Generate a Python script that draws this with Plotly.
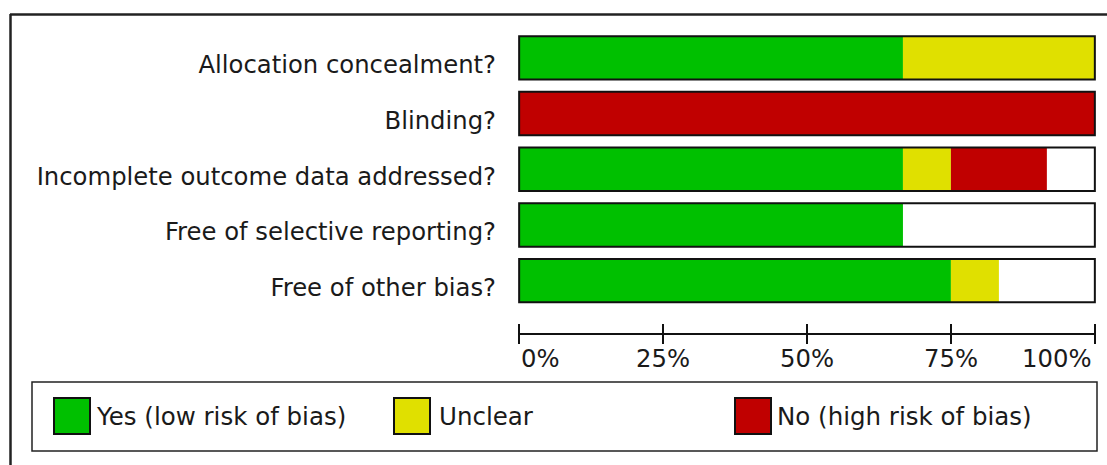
import plotly.graph_objects as go

# ---------------- data ----------------
categories = [
    "Allocation concealment?",
    "Blinding?",
    "Incomplete outcome data addressed?",
    "Free of selective reporting?",
    "Free of other bias?",
]
n_studies = 12
yes_counts = [8, 0, 8, 8, 9]
unclear_counts = [4, 0, 1, 0, 1]
no_counts = [0, 12, 2, 0, 0]

series_names = ["Yes (low risk of bias)", "Unclear", "No (high risk of bias)"]
series_colors = ["#00C000", "#E0E000", "#C00000"]

tick_values = [0, 25, 50, 75, 100]
tick_labels = ["0%", "25%", "50%", "75%", "100%"]

# ---------------- layout constants ----------------
W, H = 1107, 465
ML, MR, MT, MB = 518, 11, 30, 132
PW = W - ML - MR
PH = H - MT - MB
FONT = "DejaVu Sans"
FS = 24.3
FS_LEG = 24.5
TXT = "#1a1a1a"


def px_x(px):
    return (px - ML) / PW


def px_y(py):
    return (H - MB - py) / PH


def pct(counts):
    return [c / n_studies * 100 for c in counts]


fig = go.Figure()

series_counts = [yes_counts, unclear_counts, no_counts]
base = [0.0] * len(categories)
for name, color, counts in zip(series_names, series_colors, series_counts):
    vals = pct(counts)
    fig.add_trace(go.Bar(
        y=categories, x=vals, base=base[:], orientation="h",
        name=name, marker=dict(color=color, line=dict(width=0)),
        width=0.78, showlegend=False, hoverinfo="skip",
    ))
    base = [b + v for b, v in zip(base, vals)]

# full-width outline for each question
fig.add_trace(go.Bar(
    y=categories, x=[100] * len(categories), base=[0] * len(categories),
    orientation="h", xaxis="x2",
    marker=dict(color="rgba(0,0,0,0)", line=dict(color="#111111", width=2)),
    width=0.78, showlegend=False, hoverinfo="skip",
))

shapes = []
annotations = []

# tick labels under the axis
for v, t in zip(tick_values, tick_labels):
    if v == tick_values[0]:
        anchor, shift = "left", 0
    elif v == tick_values[-1]:
        anchor, shift = "right", -2
    else:
        anchor, shift = "center", 0
    annotations.append(dict(
        x=v, xref="x", y=px_y(342), yref="paper", text=t, showarrow=False,
        xanchor=anchor, yanchor="top", xshift=shift,
        font=dict(family=FONT, size=FS, color=TXT),
    ))

# legend box
shapes.append(dict(type="rect", xref="paper", yref="paper",
                   x0=px_x(32), x1=px_x(1097), y0=px_y(382), y1=px_y(451),
                   line=dict(color="#222222", width=1.5), fillcolor="white"))
sw_left = [54, 394, 735]
txt_left = [94, 437, 775]
for name, color, sx, tx in zip(series_names, series_colors, sw_left, txt_left):
    shapes.append(dict(type="rect", xref="paper", yref="paper",
                       x0=px_x(sx), x1=px_x(sx + 36), y0=px_y(398), y1=px_y(434),
                       line=dict(color="#111111", width=2), fillcolor=color))
    annotations.append(dict(
        x=px_x(tx), xref="paper", y=px_y(416), yref="paper", text=name,
        showarrow=False, xanchor="left", yanchor="middle",
        font=dict(family=FONT, size=FS_LEG, color=TXT),
    ))

# outer frame (top and left edges)
shapes.append(dict(type="line", xref="paper", yref="paper",
                   x0=px_x(10), x1=px_x(1110), y0=px_y(14.5), y1=px_y(14.5),
                   line=dict(color="#222222", width=2.5)))
shapes.append(dict(type="line", xref="paper", yref="paper",
                   x0=px_x(10.5), x1=px_x(10.5), y0=px_y(14), y1=px_y(470),
                   line=dict(color="#222222", width=2.5)))

xr = [-0.2, 100.2]
fig.update_layout(
    width=W, height=H,
    margin=dict(l=ML, r=MR, t=MT, b=MB, pad=0),
    paper_bgcolor="white", plot_bgcolor="white",
    barmode="overlay",
    showlegend=False,
    xaxis=dict(range=xr, tickvals=tick_values, showticklabels=False,
               ticks="inside", ticklen=9, tickwidth=2, tickcolor="#111111",
               showline=True, linecolor="#111111", linewidth=2,
               showgrid=False, zeroline=False, fixedrange=True),
    xaxis2=dict(range=xr, overlaying="x", anchor="y", side="bottom",
                tickvals=tick_values, showticklabels=False,
                ticks="outside", ticklen=10, tickwidth=2, tickcolor="#111111",
                showline=False, showgrid=False, zeroline=False, fixedrange=True),
    yaxis=dict(categoryorder="array", categoryarray=categories,
               range=[4.94, -0.5], showgrid=False, zeroline=False,
               showline=False, ticks="", ticklabelstandoff=21,
               ticklabelshift=-7,
               tickfont=dict(family=FONT, size=FS, color=TXT), fixedrange=True),
    shapes=shapes,
    annotations=annotations,
)

fig.write_html(
    "out.html",
    config={"displayModeBar": False},
    post_script="document.body.style.margin='0';document.body.style.overflow='hidden';",
)
